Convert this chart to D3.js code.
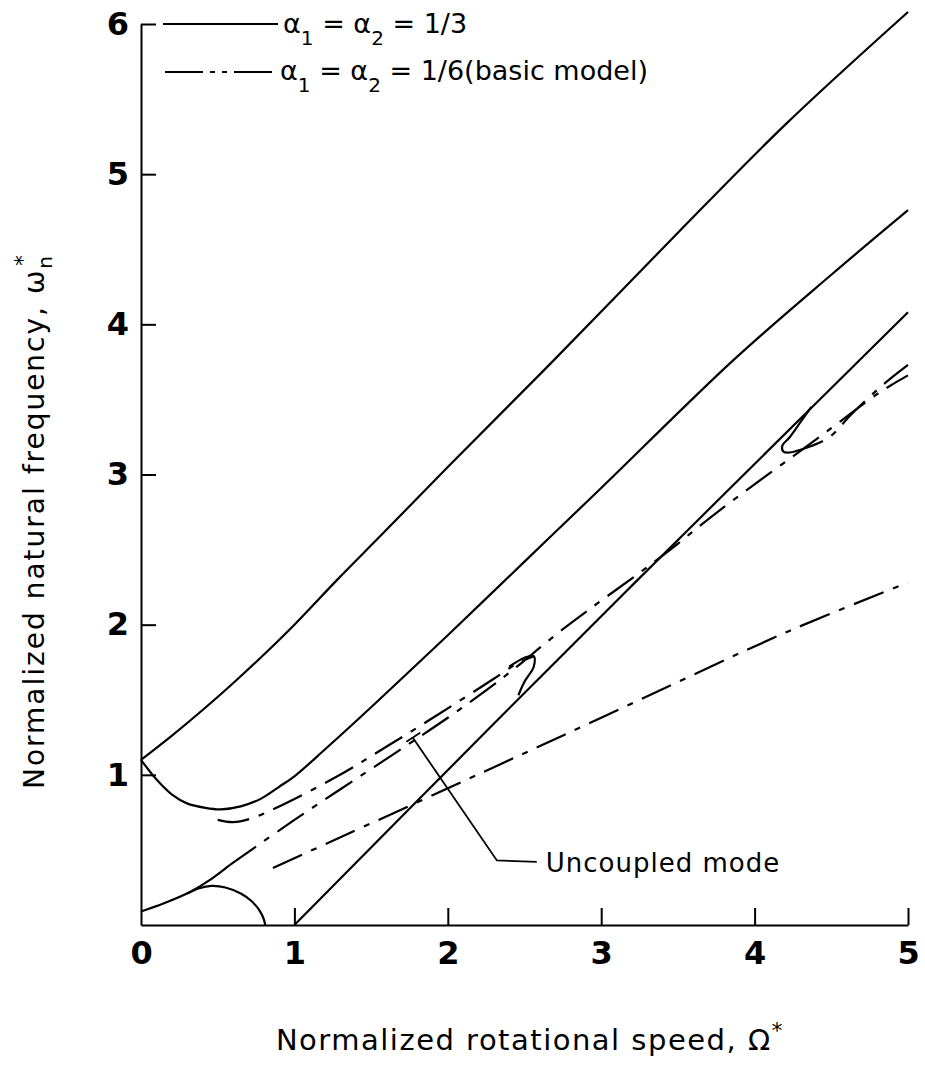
<!DOCTYPE html>
<html>
<head>
<meta charset="utf-8">
<script src="https://cdn.jsdelivr.net/npm/d3@7"></script>
<style>
  body { margin: 0; background: #fff; }
  svg { display: block; font-family: "DejaVu Sans", "Noto Sans", sans-serif; }
</style>
</head>
<body>
<div id="chart"></div>
<script>
// tick values
var xTicks = [0, 1, 2, 3, 4, 5];
var yTicks = [1, 2, 3, 4, 5, 6];

// alpha1 = alpha2 = 1/3 (solid curves), [speed, frequency]
var solidTop = [[0, 1.10], [0.2, 1.26], [0.4, 1.43], [0.6, 1.61], [0.8, 1.80], [1.0, 2.00],
  [1.28, 2.30], [1.56, 2.59], [2.0, 3.05], [2.69, 3.76], [3.5, 4.61], [4.2, 5.33], [5.0, 6.08]];
var solidDip = [[0, 1.10], [0.1, 0.97], [0.2, 0.87], [0.3, 0.81], [0.42, 0.78], [0.52, 0.77],
  [0.65, 0.79], [0.78, 0.84], [0.9, 0.92], [1.0, 0.99], [1.2, 1.17], [1.5, 1.45], [2.0, 1.93],
  [2.5, 2.42], [3.0, 2.91], [3.86, 3.76], [4.5, 4.33], [5.0, 4.76]];
var solidBackward = [[1.0, 0.0], [2.29, 1.33], [3.21, 2.27], [4.0, 3.07], [5.0, 4.08]];
var solidLow = [[0, 0.09], [0.15, 0.145], [0.32, 0.22], [0.45, 0.30], [0.58, 0.40]];
var solidArc = [[0.30, 0.21], [0.38, 0.245], [0.46, 0.26], [0.55, 0.25], [0.65, 0.21],
  [0.72, 0.16], [0.77, 0.10], [0.80, 0.04], [0.81, 0.0]];
var solidHairpin = [[2.40, 1.72], [2.50, 1.78], [2.56, 1.79], [2.56, 1.72], [2.50, 1.62], [2.46, 1.53]];
var solidHook = [[4.37, 3.45], [4.30, 3.35], [4.23, 3.25], [4.18, 3.19], [4.19, 3.15], [4.25, 3.15]];

// alpha1 = alpha2 = 1/6, basic model (dash-dot curves)
var dashUncoupled = [[0.58, 0.40], [1.0, 0.70], [1.62, 1.12], [2.0, 1.38], [2.3, 1.60], [2.45, 1.72],
  [2.75, 1.97], [3.4, 2.46], [3.77, 2.76], [4.41, 3.24], [4.82, 3.55], [5.0, 3.66]];
var dashLower = [[0.86, 0.38], [2.0, 0.91], [3.0, 1.38], [4.23, 1.96], [5.0, 2.28]];
var dashUpper = [[0.50, 0.70], [0.60, 0.685], [0.72, 0.71], [0.86, 0.77], [1.28, 0.99],
  [1.62, 1.20], [1.95, 1.41], [2.3, 1.64], [2.45, 1.74], [2.56, 1.79]];
var dashHookTail = [[4.25, 3.15], [4.37, 3.19], [4.49, 3.25], [4.63, 3.40], [4.84, 3.60], [5.0, 3.73]];

// annotation leader
var pointer = [[1.77, 1.25], [2.32, 0.43], [2.58, 0.42]];
var pointerCap = [[1.73, 1.22], [1.82, 1.28]];

var margin = { top: 24, left: 141 },
  width = 767,
  height = 901;

var x = d3.scaleLinear().domain([0, 5]).range([0, width]);
var y = d3.scaleLinear().domain([0, 6]).range([height, 0]);

var svg = d3.select("#chart").append("svg")
  .attr("width", 925)
  .attr("height", 1080);

var g = svg.append("g")
  .attr("transform", "translate(" + margin.left + "," + margin.top + ")");

var line = d3.line()
  .x(function(d) { return x(d[0]); })
  .y(function(d) { return y(d[1]); })
  .curve(d3.curveCatmullRom.alpha(0.5));

var straight = d3.line()
  .x(function(d) { return x(d[0]); })
  .y(function(d) { return y(d[1]); });

// axes
var xAxis = g.append("g")
  .attr("transform", "translate(0," + height + ")")
  .call(d3.axisBottom(x).tickValues(xTicks).tickFormat(d3.format("d"))
    .tickSizeInner(-17).tickSizeOuter(0).tickPadding(16));

var yAxis = g.append("g")
  .call(d3.axisLeft(y).tickValues(yTicks).tickFormat(d3.format("d"))
    .tickSizeInner(-15).tickSizeOuter(0).tickPadding(12));

[xAxis, yAxis].forEach(function(a) {
  a.attr("font-family", null).attr("font-size", null);
  a.select(".domain").attr("stroke", "#000").attr("stroke-width", 2);
  a.selectAll(".tick line").attr("stroke", "#000").attr("stroke-width", 2);
  a.selectAll(".tick text")
    .attr("fill", "#000")
    .style("font-size", "32px")
    .style("font-weight", "bold");
});
xAxis.selectAll(".tick").filter(function(d) { return d === 0; }).select("line").remove();

// curves
var solids = [solidTop, solidDip, solidBackward, solidLow, solidArc, solidHairpin, solidHook];
var dashes = [dashUncoupled, dashLower, dashUpper, dashHookTail];

g.selectAll(".solid")
  .data(solids)
  .enter().append("path")
  .attr("class", "solid")
  .attr("d", line)
  .attr("fill", "none")
  .attr("stroke", "#000")
  .attr("stroke-width", 2.2);

g.selectAll(".dashed")
  .data(dashes)
  .enter().append("path")
  .attr("class", "dashed")
  .attr("d", line)
  .attr("fill", "none")
  .attr("stroke", "#000")
  .attr("stroke-width", 2.2)
  .attr("stroke-dasharray", "32,10,6,10");

// uncoupled mode label
g.append("path")
  .attr("d", straight(pointer))
  .attr("fill", "none")
  .attr("stroke", "#000")
  .attr("stroke-width", 1.8);
g.append("path")
  .attr("d", straight(pointerCap))
  .attr("fill", "none")
  .attr("stroke", "#000")
  .attr("stroke-width", 1.8);
g.append("text")
  .attr("x", x(pointer[2][0]) + 9)
  .attr("y", y(pointer[2][1]) + 10)
  .style("font-size", "26px")
  .style("letter-spacing", "1px")
  .text("Uncoupled mode");

// legend
var legend = g.append("g");
legend.append("line")
  .attr("x1", 22).attr("x2", 137).attr("y1", 0).attr("y2", 0)
  .attr("stroke", "#000").attr("stroke-width", 2);
legend.append("line")
  .attr("x1", 24).attr("x2", 136).attr("y1", 48).attr("y2", 48)
  .attr("stroke", "#000").attr("stroke-width", 2)
  .attr("stroke-dasharray", "38,7,5,7,5,7");

function legendText(yPos, xPos, tail) {
  var t = legend.append("text").attr("x", xPos).attr("y", yPos).style("font-size", "27px");
  t.append("tspan").text("α");
  t.append("tspan").attr("dy", 12).style("font-size", "20px").text("1");
  t.append("tspan").attr("dy", -12).text(" = α");
  t.append("tspan").attr("dy", 12).style("font-size", "20px").text("2");
  t.append("tspan").attr("dy", -12).text(" = " + tail);
}
legendText(9, 142, "1/3");
legendText(56, 139, "1/6(basic model)");

// axis titles
var xt = svg.append("text")
  .attr("x", 530).attr("y", 1050)
  .attr("text-anchor", "middle")
  .style("font-size", "29px")
  .style("letter-spacing", "1.5px");
xt.append("tspan").text("Normalized rotational speed, Ω");
xt.append("tspan").attr("dy", -12).style("font-size", "22px").text("*");

var yt = svg.append("text")
  .attr("transform", "translate(44,521) rotate(-90)")
  .attr("text-anchor", "middle")
  .style("font-size", "28px")
  .style("letter-spacing", "2px");
yt.append("tspan").text("Normalized natural frequency, ω");
yt.append("tspan").attr("dy", 8).style("font-size", "20px").text("n");
yt.append("tspan").attr("dy", -22).attr("dx", -12).style("font-size", "22px").text("*");
</script>
</body>
</html>
